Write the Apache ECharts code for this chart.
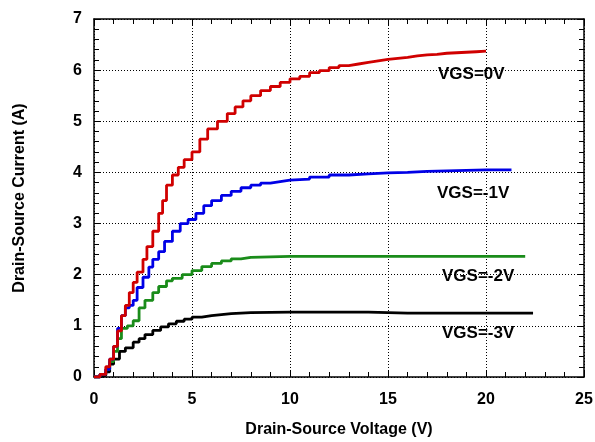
<!DOCTYPE html>
<html><head><meta charset="utf-8">
<script src="https://cdn.jsdelivr.net/npm/echarts@6/dist/echarts.min.js"></script>
<style>html,body{margin:0;padding:0;background:#fff}#c{width:595px;height:442px}</style>
</head><body><div id="c"></div>
<script>
var seriesNames = ['VGS=0V','VGS=-1V','VGS=-2V','VGS=-3V'];
var vgs0 = [[0,0],[0.3,0.05],[0.6,0.2],[0.8,0.35],[1.0,0.6],[1.2,0.9],[1.4,1.2],[1.6,1.4],[1.8,1.65],[2.0,1.85],[2.2,2.05],[2.5,2.3],[2.7,2.55],[3.0,2.85],[3.3,3.2],[3.5,3.45],[3.7,3.75],[4.0,3.95],[4.3,4.1],[4.6,4.25],[5.0,4.4],[5.4,4.65],[5.8,4.85],[6.3,5.0],[6.8,5.15],[7.2,5.28],[7.6,5.4],[8.0,5.5],[8.5,5.6],[9.0,5.68],[9.5,5.76],[10,5.83],[10.5,5.88],[11,5.95],[11.5,5.99],[12,6.05],[12.5,6.09],[13,6.12],[13.5,6.15],[14,6.18],[14.5,6.21],[15,6.23],[15.5,6.25],[16,6.28],[16.5,6.3],[17,6.31],[17.5,6.33],[18,6.34],[18.5,6.35],[19,6.36],[19.5,6.37],[20,6.37]];
var vgsM1 = [[0,0],[0.3,0.05],[0.6,0.15],[0.8,0.35],[1.0,0.6],[1.2,0.95],[1.4,1.2],[1.6,1.35],[1.8,1.4],[2.0,1.5],[2.2,1.75],[2.5,1.95],[2.8,2.15],[3.0,2.3],[3.3,2.45],[3.6,2.65],[4.0,2.85],[4.4,3.0],[4.8,3.08],[5.2,3.2],[5.6,3.35],[6.0,3.45],[6.5,3.55],[7.0,3.63],[7.5,3.7],[8.0,3.75],[8.5,3.79],[9.0,3.82],[9.5,3.85],[10,3.87],[11,3.91],[12,3.95],[13,3.97],[14,3.99],[15,4.0],[16,4.02],[17,4.03],[18,4.04],[19,4.05],[20,4.05],[21.3,4.06]];
var vgsM2 = [[0,0],[0.3,0.05],[0.6,0.15],[0.8,0.3],[1.0,0.5],[1.2,0.75],[1.4,0.95],[1.7,1.0],[2.0,1.1],[2.3,1.35],[2.6,1.5],[3.0,1.65],[3.3,1.77],[3.7,1.88],[4.0,1.93],[4.5,2.0],[5.0,2.08],[5.5,2.16],[6.0,2.22],[6.5,2.27],[7.0,2.31],[7.5,2.34],[8.0,2.36],[10,2.36],[12,2.36],[15,2.36],[18,2.36],[20,2.36],[22,2.36]];
var vgsM3 = [[0,0],[0.3,0.03],[0.6,0.1],[0.8,0.25],[1.0,0.35],[1.3,0.5],[1.6,0.57],[2.0,0.68],[2.3,0.75],[2.6,0.83],[3.0,0.91],[3.4,0.98],[3.8,1.04],[4.2,1.09],[4.6,1.13],[5.0,1.17],[5.5,1.2],[6.0,1.22],[6.5,1.24],[7.0,1.25],[7.5,1.26],[8.0,1.27],[10,1.27],[12,1.27],[14,1.25],[16,1.25],[18,1.25],[20,1.25],[22.4,1.25]];
var seriesData = [vgs0, vgsM1, vgsM2, vgsM3];
var colors = ['#d00000','#0000e6','#1a8c1a','#000000'];
var labelPos = [[438,66],[437,185],[442,268],[442,325]];

var chart = echarts.init(document.getElementById('c'), null, {renderer:'canvas'});
var font = 'Liberation Sans, Arial, sans-serif';
function xAx(pos, showLabel){
  return {type:'value', min:0, max:25, interval:5, position:pos,
    name: showLabel ? 'Drain-Source Voltage (V)' : '', nameLocation:'middle', nameGap:45,
    nameTextStyle:{fontFamily:font, fontWeight:'bold', fontSize:16, color:'#000'},
    axisLine:{show:true, onZero:false, lineStyle:{color:'#000', width:1.5}},
    axisTick:{show:true, inside:true, length:6, lineStyle:{color:'#000', width:1}},
    minorTick:{show:true, splitNumber:5, length:5, lineStyle:{color:'#000', width:1}},
    axisLabel:{show:showLabel, margin:15, fontFamily:font, fontWeight:'bold', fontSize:16, color:'#000'},
    splitLine:{show:showLabel, lineStyle:{color:'#000', type:[1,2], width:1}}};
}
function yAx(pos, showLabel){
  return {type:'value', min:0, max:7, interval:1, position:pos,
    name: showLabel ? 'Drain-Source Current (A)' : '', nameLocation:'middle', nameGap:66,
    nameTextStyle:{fontFamily:font, fontWeight:'bold', fontSize:16, color:'#000'},
    axisLine:{show:true, onZero:false, lineStyle:{color:'#000', width:1.5}},
    axisTick:{show:true, inside:true, length:6, lineStyle:{color:'#000', width:1}},
    minorTick:{show:true, splitNumber:5, length:5, lineStyle:{color:'#000', width:1}},
    axisLabel:{show:showLabel, margin:12, fontFamily:font, fontWeight:'bold', fontSize:16, color:'#000'},
    splitLine:{show:showLabel, lineStyle:{color:'#000', type:[1,2], width:1}}};
}
var series = seriesData.map(function(d,i){
  return {type:'line', name:seriesNames[i], data:d, step:'end', symbol:'none', xAxisIndex:0, yAxisIndex:0,
    lineStyle:{color:colors[i], width:2.8}, z:10-i, animation:false};
});
chart.setOption({
  animation:false,
  backgroundColor:'#fff',
  grid:{left:94, top:19, right:11, bottom:65, containLabel:false, outerBoundsMode:'none'},
  xAxis:[xAx('bottom', true), xAx('top', false)],
  yAxis:[yAx('left', true), yAx('right', false)],
  series: series,
  graphic: seriesNames.map(function(n,i){
    return {type:'text', left:labelPos[i][0], top:labelPos[i][1], z:100,
      style:{text:n, fontFamily:font, fontWeight:'bold', fontSize:17, fill:'#000'}};
  })
});
</script></body></html>
